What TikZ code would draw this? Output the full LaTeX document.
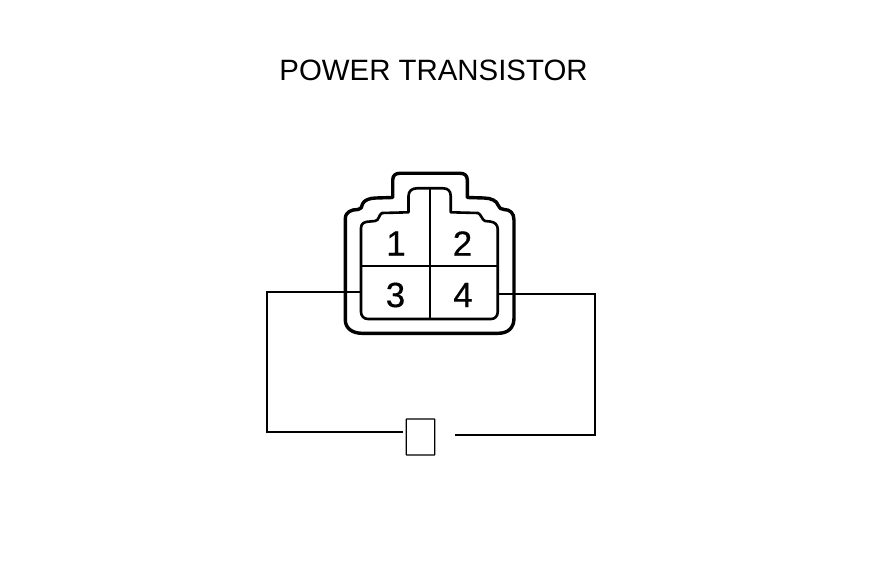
\documentclass[tikz,border=0pt]{standalone}
\usepackage{fontspec}
\setmainfont{Liberation Sans}
\tikzset{
  titletext/.style={font=\fontsize{29.4}{32}\selectfont, inner sep=0pt},
  pin/.style={font=\addfontfeature{FakeBold=0.4}\fontsize{35}{37}\selectfont, inner sep=0pt},
  wire/.style={line width=2pt},
  housing/.style={line width=3.4pt, line join=round},
  cavity/.style={line width=2.6pt, line join=round},
  divider/.style={line width=2.2pt},
  part/.style={draw, line width=1.2pt, rounded corners=0.5pt, minimum width=28.5pt, minimum height=36pt, inner sep=0pt}
}
\begin{document}
\begin{tikzpicture}[x=1pt,y=-1pt]
\useasboundingbox (0,0) rectangle (880,580);
\fill[white] (0,0) rectangle (880,580);
\node[titletext] (title) at (433.5,70.5) {POWER TRANSISTOR};
% outer housing
\draw[housing] (345.3,320) -- (345.3,219)
  .. controls (345.3,212) and (351,209.5) .. (358,209.5)
  .. controls (361,209.5) and (362,207) .. (362.5,204)
  .. controls (364,200) and (370,198) .. (376,198)
  -- (392.7,197.5) -- (392.7,180)
  .. controls (392.7,175) and (396,173.3) .. (400,173.3)
  -- (460,173.3)
  .. controls (464,173.3) and (467.3,175) .. (467.3,180)
  -- (467.3,197.5) -- (484,198)
  .. controls (491,198) and (497,201) .. (498,205)
  .. controls (499,208) and (501,209.5) .. (504,209.5)
  .. controls (510,209.5) and (514,213) .. (514,220)
  -- (514,318)
  .. controls (514,328) and (508,333.3) .. (498,333.3)
  -- (362,333.3)
  .. controls (352,333.3) and (345.3,328) .. (345.3,320) -- cycle;
% cavity
\draw[cavity] (361,228)
  .. controls (361,223) and (365,221.5) .. (370,221.5)
  -- (375,221) .. controls (379,221) and (379,214) .. (382,213)
  -- (408.5,212.3) -- (408.5,196)
  .. controls (408.5,191) and (412,188.3) .. (417,188.3)
  -- (443,188.3)
  .. controls (448,188.3) and (450.7,191) .. (450.7,196)
  -- (450.7,212.3) -- (478,213)
  .. controls (481,214) and (482,220) .. (485,221)
  -- (490,221.5)
  .. controls (495,222) and (497.7,225) .. (497.7,229)
  -- (497.7,312)
  .. controls (497.7,316) and (495,319) .. (491,319)
  -- (368,319)
  .. controls (364,319) and (361,316) .. (361,312) -- cycle;
\coordinate (vtop) at (430,188);
\coordinate (vbot) at (430,320);
\coordinate (hleft) at (361,266);
\coordinate (hright) at (497.7,266);
\draw[divider] (vtop) -- (vbot);
\draw[divider] (hleft) -- (hright);
\node[pin] (p1) at (396,243.5) {1};
\node[pin] (p2) at (462.5,243.5) {2};
\node[pin] (p3) at (395.5,295) {3};
\node[pin] (p4) at (463,295) {4};
% part and wires
\node[part] (fuse) at (420.5,437) {};
\coordinate (lstart) at (361,291.5);
\coordinate (lc1) at (267,291.5);
\coordinate (lc2) at (267,432);
\coordinate (lend) at (403,432);
\coordinate (rstart) at (497.7,293.5);
\coordinate (rc1) at (594.5,293.5);
\coordinate (rc2) at (594.5,435);
\coordinate (rend) at (454.5,435);
\draw[wire] (lstart) -- (lc1) -- (lc2) -- (lend);
\draw[wire] (rstart) -- (rc1) -- (rc2) -- (rend);
\end{tikzpicture}
\end{document}
